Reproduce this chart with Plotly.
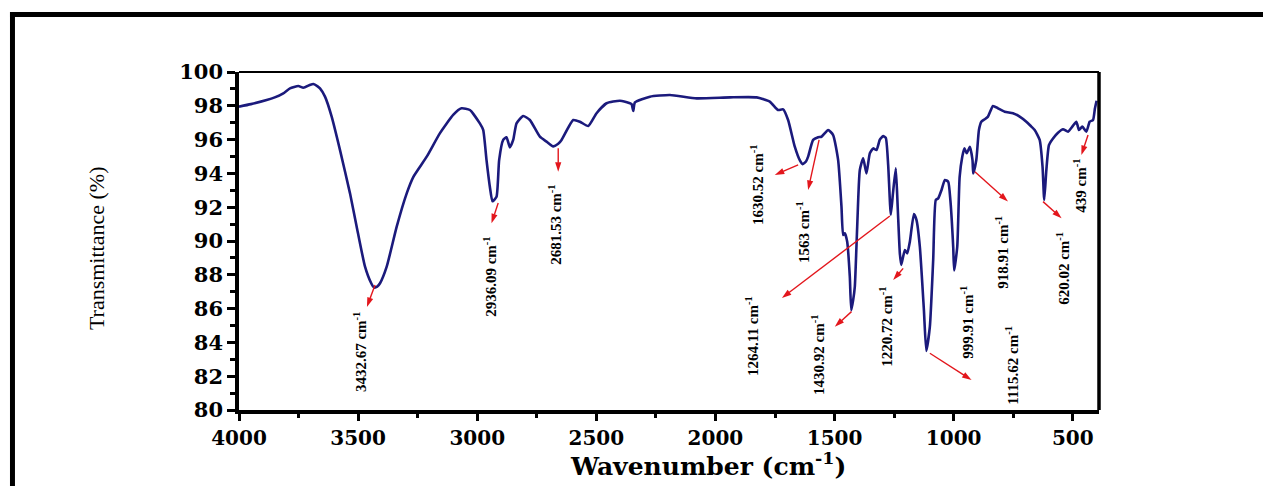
import plotly.graph_objects as go

# ---- spectrum data ----
wavenumber = [4000, 3950, 3884, 3850, 3814, 3786, 3751, 3730, 3700, 3688, 3670, 3660, 3639, 3611, 3576,
              3534, 3506, 3471, 3445, 3433, 3420, 3408, 3380, 3338, 3296, 3268, 3212, 3157, 3101, 3066,
              3031, 2989, 2975, 2961, 2947, 2936, 2919, 2908, 2891, 2877, 2863, 2849, 2835, 2807, 2779,
              2737, 2709, 2681, 2660, 2646, 2597, 2569, 2534, 2499, 2457, 2401, 2359, 2352, 2345, 2338,
              2275, 2191, 2079, 1939, 1827, 1772, 1737, 1716, 1695, 1667, 1645, 1634, 1620, 1611, 1590,
              1569, 1555, 1527, 1506, 1485, 1471, 1464, 1457, 1447, 1436, 1430, 1422, 1415, 1405, 1394,
              1380, 1366, 1352, 1338, 1324, 1310, 1296, 1285, 1275, 1264, 1255, 1243, 1235, 1226, 1220,
              1205, 1195, 1184, 1167, 1156, 1142, 1125, 1115, 1100, 1086, 1075, 1065, 1051, 1037, 1023,
              1014, 1002, 998, 985, 975, 964, 955, 945, 932, 921, 918, 905, 894, 884, 870,
              856, 835, 814, 786, 751, 723, 695, 674, 660, 639, 627, 620, 611, 600, 583,
              562, 541, 520, 502, 485, 474, 460, 443, 429, 415, 407, 400]
transmittance = [97.95, 98.10, 98.34, 98.50, 98.74, 99.03, 99.17, 99.07, 99.25, 99.29, 99.15, 99.03, 98.54, 97.36, 95.38,
                 92.82, 90.85, 88.48, 87.50, 87.25, 87.30, 87.50, 88.48, 90.85, 92.82, 93.80, 94.99, 96.37, 97.46, 97.85,
                 97.75, 96.96, 96.57, 94.79, 93.21, 92.35, 92.62, 94.79, 95.98, 96.14, 95.54, 95.98, 96.96, 97.40, 97.16,
                 96.17, 95.88, 95.60, 95.75, 95.98, 97.16, 97.06, 96.80, 97.56, 98.15, 98.30, 98.15, 98.10, 97.70, 98.20,
                 98.54, 98.64, 98.44, 98.50, 98.50, 98.25, 97.75, 97.79, 97.16, 95.58, 94.75, 94.55, 94.70, 94.99, 95.98,
                 96.14, 96.17, 96.57, 96.27, 94.79, 92.03, 90.36, 90.46, 89.96, 87.89, 85.90, 86.50, 87.30, 90.85, 94.20,
                 94.89, 94.00, 95.19, 95.48, 95.38, 96.00, 96.21, 96.10, 94.50, 91.55, 92.80, 94.30, 92.00, 89.27, 88.58,
                 89.47, 89.27, 89.96, 91.60, 91.24, 89.66, 85.92, 83.50, 84.93, 88.88, 92.43, 92.52, 93.02, 93.61, 93.51,
                 92.43, 89.66, 88.25, 89.66, 93.80, 94.99, 95.48, 95.19, 95.58, 94.79, 94.00, 94.79, 96.57, 97.06, 97.20,
                 97.36, 97.99, 97.85, 97.65, 97.56, 97.36, 97.06, 96.77, 96.57, 95.98, 94.40, 92.43, 94.20, 95.68, 96.07,
                 96.41, 96.61, 96.47, 96.77, 97.06, 96.57, 96.77, 96.47, 97.06, 97.16, 97.85, 98.30]

# ---- peak labels ----
peak_labels = ["3432.67 cm", "2936.09 cm", "2681.53 cm", "1630.52 cm", "1563 cm", "1264.11 cm",
               "1430.92 cm", "1220.72 cm", "999.91 cm", "1115.62 cm", "918.91 cm", "620.02 cm", "439 cm"]
label_x = [3492, 2947, 2674, 1826, 1633, 1847, 1570, 1285, 945, 756, 798, 542, 471]
label_y = [83.43, 87.87, 90.95, 93.31, 90.53, 84.38, 83.25, 84.91, 85.21, 82.66, 89.35, 88.40, 93.25]

# arrows: tail (on curve) -> head
arrow_tail_x = [3429, 2912, 2660, 1653, 1565, 1268, 1429, 1212, 1100, 911, 625, 436]
arrow_tail_y = [87.4, 92.25, 95.49, 94.50, 95.98, 91.48, 85.82, 88.38, 83.36, 94.10, 92.33, 96.27]
arrow_head_x = [3463, 2940, 2660, 1751, 1611, 1721, 1499, 1254, 925, 772, 547, 464]
arrow_head_y = [86.1, 91.05, 94.10, 93.91, 93.02, 86.63, 84.93, 87.69, 81.78, 92.33, 91.34, 95.09]

fig = go.Figure()
fig.add_trace(go.Scatter(x=wavenumber, y=transmittance, mode="lines",
                         line=dict(color="#1b1a7c", width=2.6, shape="spline", smoothing=0.5),
                         showlegend=False, hoverinfo="skip"))

# red arrows
for tx, ty, hx, hy in zip(arrow_tail_x, arrow_tail_y, arrow_head_x, arrow_head_y):
    fig.add_trace(go.Scatter(x=[tx, hx], y=[ty, hy], mode="lines+markers",
                             line=dict(color="#e3161c", width=1.4),
                             marker=dict(symbol="arrow", size=[0, 10], angleref="previous",
                                         color="#e3161c", opacity=1, line=dict(width=0)),
                             showlegend=False, hoverinfo="skip"))

annotations = []
for t, x, y in zip(peak_labels, label_x, label_y):
    annotations.append(dict(x=x, y=y, xref="x", yref="y", text=t + "<sup>-1</sup>", showarrow=False,
                            textangle=-90, xanchor="center", yanchor="middle",
                            font=dict(family="Liberation Serif", size=15, color="black", weight="bold")))

# axis titles
annotations.append(dict(x=0.5453, y=-0.16, xref="paper", yref="paper", text="Wavenumber (cm<sup>-1</sup>)",
                        showarrow=False, xanchor="center", yanchor="middle",
                        font=dict(family="DejaVu Serif", size=25, color="black", weight="bold")))
annotations.append(dict(x=-0.1663, y=0.479, xref="paper", yref="paper", text="Transmittance (%)",
                        showarrow=False, textangle=-90, xanchor="center", yanchor="middle",
                        font=dict(family="Liberation Serif", size=22, color="black")))

shapes = [
    # frame
    dict(type="rect", xref="paper", yref="paper", x0=-0.2663, x1=1.1907, y0=1.1627, y1=1.1775,
         fillcolor="black", line=dict(width=0)),
    dict(type="rect", xref="paper", yref="paper", x0=-0.2663, x1=-0.2605, y0=-0.2249, y1=1.1775,
         fillcolor="black", line=dict(width=0)),
    # top and right axis lines
    dict(type="line", xref="paper", yref="paper", x0=0, x1=1, y0=1, y1=1, line=dict(color="black", width=2)),
    dict(type="line", xref="paper", yref="paper", x0=1, x1=1, y0=0, y1=1, line=dict(color="black", width=3.5)),
]

fig.update_layout(
    width=1263, height=486, autosize=False,
    margin=dict(l=239, r=164, t=72, b=76),
    paper_bgcolor="white", plot_bgcolor="white",
    annotations=annotations, shapes=shapes,
    xaxis=dict(range=[4000, 390], tick0=0, dtick=500, showgrid=False, zeroline=False,
               showline=True, linecolor="black", linewidth=3.5,
               ticks="outside", ticklen=7, tickwidth=3, tickcolor="black",
               minor=dict(dtick=250, ticks="outside", ticklen=4, tickwidth=3, tickcolor="black"),
               tickfont=dict(family="DejaVu Serif", size=20, color="black", weight="bold")),
    yaxis=dict(range=[80, 100], tick0=0, dtick=2, showgrid=False, zeroline=False,
               showline=True, linecolor="black", linewidth=3.5,
               ticks="outside", ticklen=8, tickwidth=2.5, tickcolor="black",
               minor=dict(dtick=1, ticks="outside", ticklen=5, tickwidth=2.5, tickcolor="black"),
               tickfont=dict(family="DejaVu Serif", size=21, color="black", weight="bold")),
)

fig.write_html("out.html")
